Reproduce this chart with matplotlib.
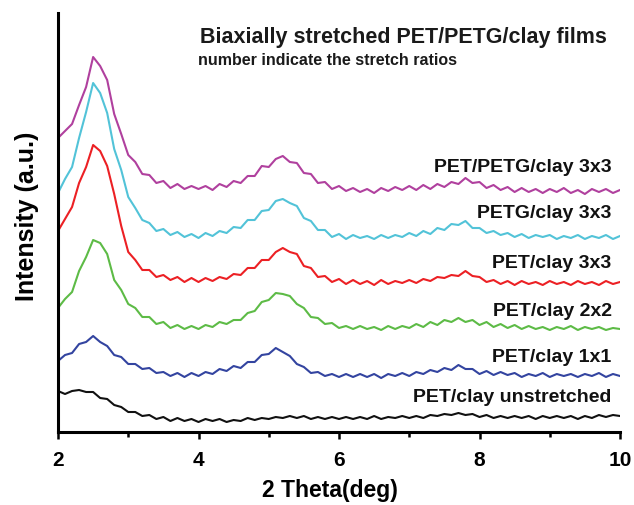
import numpy as np
import matplotlib
matplotlib.use("Agg")
import matplotlib.pyplot as plt
from matplotlib.ticker import MultipleLocator

plt.rcParams['font.family'] = ['Liberation Sans', 'DejaVu Sans']
plt.rcParams['font.weight'] = 'bold'

two_theta = np.round(np.arange(2.0, 10.0001, 0.1), 2)

pet_petg_clay_3x3 = [294, 301, 308, 327, 345, 375, 366, 352, 318, 298,
                     277, 270, 258, 257, 249, 251, 244, 248, 243, 246,
                     243, 246, 242, 248, 245, 251, 249, 256, 256, 266,
                     265, 273, 276, 270, 269, 259, 258, 249, 250, 243,
                     246, 241, 244, 240, 243, 239, 244, 241, 245, 242,
                     246, 242, 247, 243, 248, 245, 250, 248, 254, 249,
                     250, 244, 247, 242, 245, 240, 244, 240, 243, 239,
                     243, 240, 244, 239, 242, 238, 243, 240, 243, 239,
                     242]
petg_clay_3x3 = [239, 253, 265, 294, 320, 349, 339, 319, 283, 262,
                 235, 224, 212, 209, 201, 203, 197, 200, 195, 198,
                 194, 199, 196, 201, 199, 205, 204, 212, 212, 221,
                 222, 231, 233, 229, 226, 214, 211, 202, 202, 195,
                 198, 193, 197, 194, 196, 193, 197, 194, 197, 195,
                 199, 196, 201, 198, 204, 202, 208, 207, 211, 204,
                 204, 199, 201, 197, 199, 195, 198, 194, 197, 195,
                 197, 193, 196, 194, 197, 193, 196, 194, 197, 193,
                 196]
pet_clay_3x3 = [201, 213, 225, 249, 265, 287, 281, 266, 238, 206,
                180, 172, 162, 162, 155, 157, 152, 155, 150, 154,
                150, 154, 151, 155, 153, 158, 157, 164, 164, 172,
                172, 180, 184, 180, 178, 166, 164, 155, 156, 150,
                153, 148, 152, 148, 151, 147, 152, 148, 151, 149,
                152, 149, 153, 151, 155, 154, 157, 156, 161, 156,
                155, 150, 152, 148, 151, 147, 151, 148, 150, 147,
                151, 148, 150, 147, 151, 148, 150, 147, 151, 148,
                150]
pet_clay_2x2 = [124, 133, 140, 161, 175, 192, 189, 178, 152, 142,
                128, 124, 115, 115, 108, 110, 104, 107, 103, 106,
                103, 107, 105, 110, 108, 112, 112, 119, 121, 130,
                132, 139, 138, 136, 128, 124, 115, 114, 108, 109,
                104, 106, 103, 106, 103, 105, 102, 106, 103, 106,
                104, 108, 105, 110, 107, 112, 110, 114, 110, 112,
                107, 110, 105, 108, 104, 107, 103, 106, 103, 105,
                102, 105, 103, 106, 102, 105, 103, 105, 102, 104,
                103]
pet_clay_1x1 = [71, 77, 79, 88, 90, 96, 90, 86, 77, 75,
                68, 68, 63, 64, 59, 60, 56, 59, 55, 59,
                56, 60, 58, 63, 61, 66, 64, 70, 70, 77,
                78, 84, 80, 76, 68, 65, 59, 60, 56, 58,
                55, 58, 55, 58, 55, 58, 54, 58, 56, 59,
                56, 60, 58, 62, 60, 64, 62, 67, 63, 63,
                58, 61, 57, 60, 57, 59, 55, 58, 56, 59,
                55, 58, 56, 58, 55, 58, 56, 59, 55, 58,
                56]
pet_clay_unstretched = [41, 38, 41, 42, 40, 40, 34, 33, 27, 25,
                        20, 20, 16, 17, 13, 15, 11, 14, 11, 13,
                        10, 13, 11, 13, 10, 12, 11, 14, 12, 14,
                        13, 15, 14, 16, 14, 16, 13, 15, 13, 15,
                        13, 15, 13, 15, 13, 16, 13, 15, 14, 16,
                        14, 16, 14, 17, 16, 18, 17, 19, 17, 18,
                        15, 17, 14, 16, 14, 16, 14, 16, 13, 16,
                        14, 16, 14, 16, 13, 16, 14, 17, 15, 17,
                        16]

series_names = ["PET/PETG/clay 3x3", "PETG/clay 3x3", "PET/clay 3x3",
                "PET/clay 2x2", "PET/clay 1x1", "PET/clay unstretched"]
series_values = [pet_petg_clay_3x3, petg_clay_3x3, pet_clay_3x3,
                 pet_clay_2x2, pet_clay_1x1, pet_clay_unstretched]
colors = ["#B0409E", "#52C3D8", "#EC2024", "#5DBB46", "#3344A0", "#111111"]
label_y = [265, 219, 169, 120, 75, 35]

x_ticks = [2, 4, 6, 8, 10]
title = "Biaxially stretched PET/PETG/clay films"
subtitle = "number indicate the stretch ratios"

fig = plt.figure(figsize=(6.34, 5.05), dpi=100)
ax = fig.add_axes([58/634, 1 - 432/505, 562/634, 419/505])

for vals, c in zip(series_values, colors):
    ax.plot(two_theta, vals, color=c, lw=1.5)

for name, ly in zip(series_names, label_y):
    ax.text(9.88, ly, name, ha='right', va='center', fontsize=14,
            fontweight='bold', color='#111111')

ax.text(4.02, 389, title, ha='left', va='baseline', fontsize=15.5,
        fontweight='bold', color='#1a1a1a')
ax.text(3.99, 367, subtitle, ha='left', va='baseline', fontsize=11.5,
        fontweight='bold', color='#1a1a1a')

ax.set_xlim(2, 10)
ax.set_ylim(0, 419)
ax.set_xticks(x_ticks)
ax.set_xticklabels([str(t) for t in x_ticks])
ax.xaxis.set_minor_locator(MultipleLocator(1))
ax.set_yticks([])

for s in ['top', 'right']:
    ax.spines[s].set_visible(False)
for s in ['left', 'bottom']:
    ax.spines[s].set_linewidth(2.2)

ax.tick_params(axis='x', which='major', direction='out', length=5, width=1.8,
               labelsize=15, pad=9)
ax.tick_params(axis='x', which='minor', direction='out', length=3.5, width=1.8)
for lbl in ax.get_xticklabels():
    lbl.set_fontweight('bold')

ax.set_xlabel("2 Theta(deg)", fontsize=16.5, fontweight='bold', va='baseline')
ax.xaxis.set_label_coords(0.484, (432 - 497) / 419)
ax.set_ylabel("Intensity (a.u.)", fontsize=18, fontweight='bold', va='center')
ax.yaxis.set_label_coords((27 - 58) / 562, 0.515)

fig.savefig("out.png", dpi=100)
